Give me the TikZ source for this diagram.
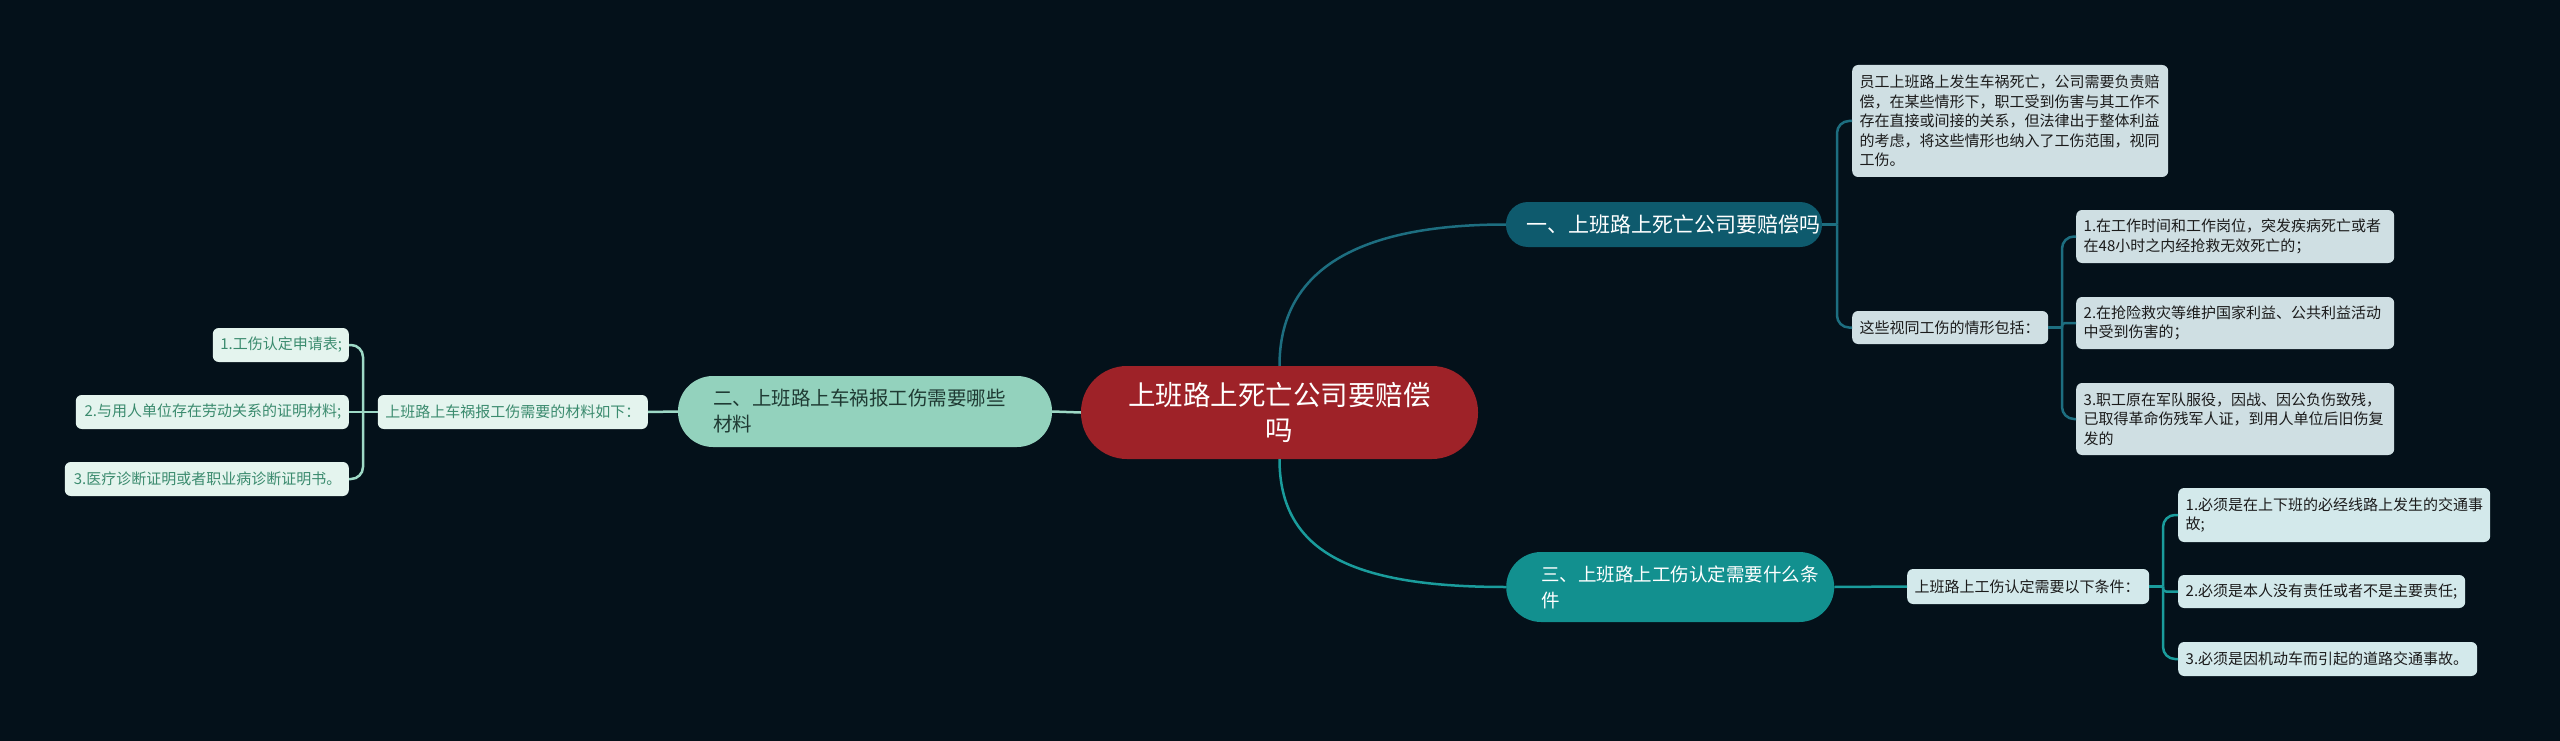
\documentclass[tikz,border=0pt]{standalone}
\usepackage{fontspec}
\newfontfamily\cjk{Noto Sans CJK SC}
\definecolor{bg}{HTML}{04111A}
\definecolor{rootfill}{HTML}{9E2228}
\definecolor{bonefill}{HTML}{0E5A6D}
\definecolor{btwofill}{HTML}{93D2BD}
\definecolor{bthreefill}{HTML}{12908F}
\definecolor{leafA}{HTML}{CFDFE3}
\definecolor{leafC}{HTML}{D3E9EB}
\definecolor{leafL}{HTML}{E4F4EE}
\definecolor{leaftext}{HTML}{1B1B1B}
\definecolor{lefttext}{HTML}{3B8B6E}
\definecolor{btwotext}{HTML}{1F3A33}
\definecolor{lnone}{HTML}{1D6E80}
\definecolor{lnthree}{HTML}{1A9C9C}
\definecolor{lntwo}{HTML}{9ED9C6}
\begin{document}
\begin{tikzpicture}[x=1pt,y=-1pt,
  leaf/.style={rounded corners=6pt, inner xsep=7.5pt, inner ysep=0pt, font=\cjk\fontsize{15}{19.5}\selectfont},
  leafa/.style={leaf, fill=leafA, text=leaftext, align=left, anchor=west},
  leafc/.style={leaf, fill=leafC, text=leaftext, align=left, anchor=west},
  leafl/.style={leaf, fill=leafL, text=lefttext, align=right, anchor=east},
  rootbox/.style={fill=rootfill, text=white, rounded corners=46pt, inner xsep=20pt, inner ysep=0pt, align=center, font=\cjk\fontsize{27.5}{35}\selectfont},
  bone/.style={fill=bonefill, text=white, rounded corners=22pt, inner xsep=20pt, inner ysep=0pt, align=center, font=\cjk\fontsize{21}{26}\selectfont},
  btwo/.style={fill=btwofill, text=btwotext, rounded corners=35pt, inner xsep=35pt, inner ysep=0pt, align=left, font=\cjk\fontsize{19.5}{26}\selectfont},
  bthree/.style={fill=bthreefill, text=white, rounded corners=35pt, inner xsep=35pt, inner ysep=0pt, align=left, font=\cjk\fontsize{18.5}{26}\selectfont},
  lnup/.style={draw=lnone, line width=2.5pt},
  lndn/.style={draw=lnthree, line width=2.5pt},
  lnlf/.style={draw=lntwo, line width=2.5pt},
  brk/.style={rounded corners=12pt}
]
\fill[bg] (0,0) rectangle (2560,741);
\useasboundingbox (0,0) rectangle (2560,741);

% root and branches
\node[rootbox, minimum height=93pt, text width=357pt] (root) at (1279.5,412.5) {上班路上死亡公司要赔偿\\吗};
\node[bone, minimum height=45pt, text width=276pt] (b1) at (1664,224.5) {一、上班路上死亡公司要赔偿吗};
\node[btwo, minimum height=71pt, text width=304pt] (b2) at (865,411.5) {二、上班路上车祸报工伤需要哪些\\材料};
\node[bthree, minimum height=70pt, text width=258pt, anchor=west] (b3) at (1506,587) {三、上班路上工伤认定需要什么条\\件};

% branch 1 leaves
\node[leafa, minimum height=112pt, text width=301pt] (A) at (1852,121) {员工上班路上发生车祸死亡，公司需要负责赔\\偿，在某些情形下，职工受到伤害与其工作不\\存在直接或间接的关系，但法律出于整体利益\\的考虑，将这些情形也纳入了工伤范围，视同\\工伤。};
\node[leafa, minimum height=33pt, text width=181pt] (B) at (1852,327.5) {这些视同工伤的情形包括：};
\node[leafa, minimum height=53pt, text width=303pt] (C1) at (2076,236.5) {1.在工作时间和工作岗位，突发疾病死亡或者\\在48小时之内经抢救无效死亡的；};
\node[leafa, minimum height=52pt, text width=303pt] (C2) at (2076,323) {2.在抢险救灾等维护国家利益、公共利益活动\\中受到伤害的；};
\node[leafa, minimum height=72pt, text width=303pt] (C3) at (2076,419) {3.职工原在军队服役，因战、因公负伤致残，\\已取得革命伤残军人证，到用人单位后旧伤复\\发的};

% branch 3 leaves
\node[leafc, minimum height=35pt, text width=227pt] (D) at (1907,586.5) {上班路上工伤认定需要以下条件：};
\node[leafc, minimum height=54pt, text width=297pt] (E1) at (2178,515) {1.必须是在上下班的必经线路上发生的交通事\\故;};
\node[leafc, minimum height=33pt, text width=272pt] (E2) at (2178,591.5) {2.必须是本人没有责任或者不是主要责任;};
\node[leafc, minimum height=34pt, text width=284pt] (E3) at (2178,659) {3.必须是因机动车而引起的道路交通事故。};

% branch 2 leaves
\node[leafl, minimum height=34pt, text width=255pt, align=left] (F) at (648,412) {上班路上车祸报工伤需要的材料如下：};
\node[leafl, minimum height=34pt, text width=121pt] (G1) at (349,345) {1.工伤认定申请表;};
\node[leafl, minimum height=34pt, text width=258pt] (G2) at (349,412) {2.与用人单位存在劳动关系的证明材料;};
\node[leafl, minimum height=34pt, text width=269pt] (G3) at (349,479) {3.医疗诊断证明或者职业病诊断证明书。};

% junction points
\coordinate (j1) at (1837,224.5);
\coordinate (j2) at (2062,327.5);
\coordinate (j3) at (2163,586.5);
\coordinate (j4) at (363,412);

% main connectors
\draw[lnup] (root.north) .. controls +(0,-95) and +(-150,0) .. (b1.west);
\draw[lndn] (root.south) .. controls +(0,95) and +(-150,0) .. (b3.west);
\draw[lnlf] (b2.east) -- (root.west);

% branch 1 brackets
\draw[lnup] (b1.east) -- (j1);
\draw[lnup, brk] (j1) |- (A.west);
\draw[lnup, brk] (j1) |- (B.west);
\draw[lnup] (B.east) -- (j2);
\draw[lnup, brk] (j2) |- (C1.west);
\draw[lnup, rounded corners=3pt] (j2) |- (C2.west);
\draw[lnup, brk] (j2) |- (C3.west);

% branch 3 brackets
\draw[lndn] (b3.east) -- (D.west);
\draw[lndn] (D.east) -- (j3);
\draw[lndn, brk] (j3) |- (E1.west);
\draw[lndn, rounded corners=3pt] (j3) |- (E2.west);
\draw[lndn, brk] (j3) |- (E3.west);

% branch 2 brackets
\draw[lnlf] (b2.west) -- (F.east);
\draw[lnlf] (F.west) -- (j4);
\draw[lnlf, brk] (j4) |- (G1.east);
\draw[lnlf] (j4) -- (G2.east);
\draw[lnlf, brk] (j4) |- (G3.east);
\end{tikzpicture}
\end{document}
